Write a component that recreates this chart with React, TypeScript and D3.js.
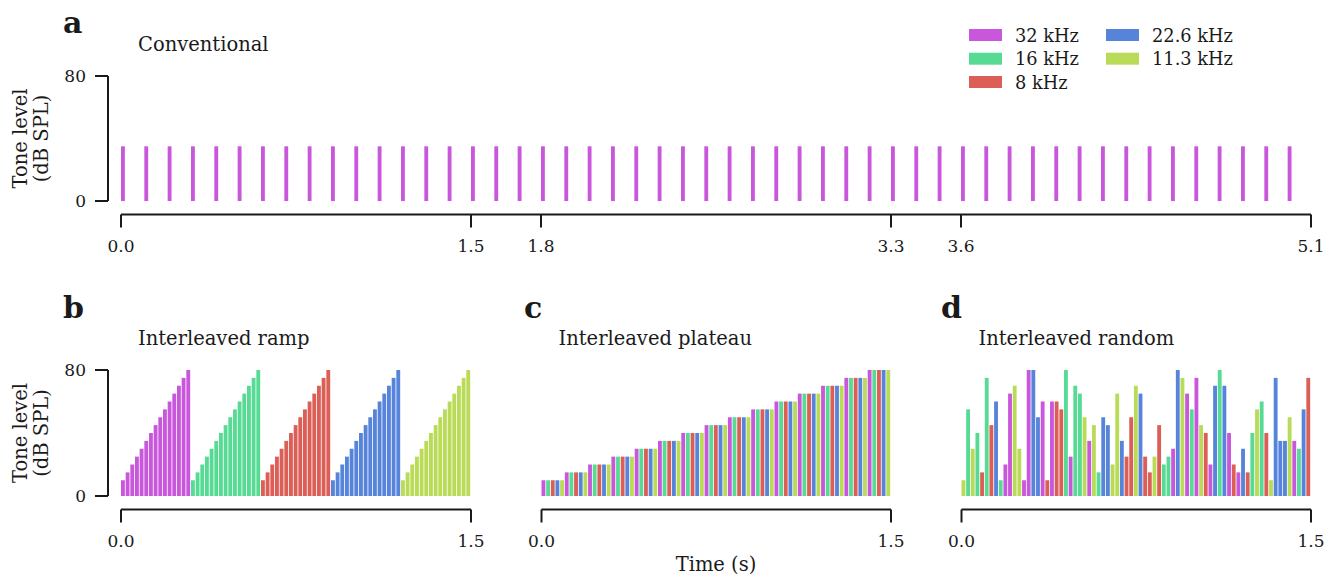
import React from "react";
import * as d3 from "d3";

// Tone frequencies (legend order) and their colours
const FREQUENCIES = ["32 kHz", "16 kHz", "8 kHz", "22.6 kHz", "11.3 kHz"];
const FREQ_COLORS = ["#c957db", "#57db94", "#db5f57", "#5784db", "#b9db57"];

// Sound levels used by the interleaved sequences (dB SPL)
const LEVELS = [10, 15, 20, 25, 30, 35, 40, 45, 50, 55, 60, 65, 70, 75, 80];

// Conventional paradigm: one 32 kHz tone every 100 ms at 35 dB SPL
const CONVENTIONAL_ONSETS = [
  0.0, 0.1, 0.2, 0.3, 0.4, 0.5, 0.6, 0.7, 0.8, 0.9,
  1.0, 1.1, 1.2, 1.3, 1.4, 1.5, 1.6, 1.7, 1.8, 1.9,
  2.0, 2.1, 2.2, 2.3, 2.4, 2.5, 2.6, 2.7, 2.8, 2.9,
  3.0, 3.1, 3.2, 3.3, 3.4, 3.5, 3.6, 3.7, 3.8, 3.9,
  4.0, 4.1, 4.2, 4.3, 4.4, 4.5, 4.6, 4.7, 4.8, 4.9, 5.0,
];
const CONVENTIONAL_LEVEL = 35;
const CONVENTIONAL_FREQ = 0;

// Interleaved random paradigm: frequency index and level of each tone
const RANDOM_FREQ = [
  4, 1, 4, 1, 2, 1, 2, 3, 1, 0, 0, 4, 4, 0, 0, 3, 3, 0, 2, 0,
  2, 2, 1, 0, 1, 1, 4, 0, 4, 1, 3, 3, 4, 4, 3, 2, 2, 4, 3, 2,
  2, 4, 2, 1, 1, 0, 3, 4, 0, 1, 0, 4, 2, 0, 3, 1, 3, 0, 2, 0,
  3, 2, 1, 4, 1, 2, 4, 3, 3, 3, 4, 0, 1, 3, 2,
];
const RANDOM_LEVEL = [
  10, 55, 30, 40, 15, 75, 45, 60, 10, 20, 65, 70, 30, 10, 80, 80, 50, 60, 10, 60,
  60, 55, 80, 25, 70, 65, 50, 35, 45, 15, 50, 45, 20, 65, 35, 25, 50, 70, 65, 25,
  15, 25, 45, 20, 25, 30, 80, 75, 65, 55, 75, 45, 40, 20, 70, 80, 70, 40, 20, 15,
  30, 15, 40, 55, 60, 40, 10, 75, 35, 35, 50, 35, 30, 55, 75,
];

// Axis tick values
const TICKS_CONVENTIONAL = [0, 1.5, 1.8, 3.3, 3.6, 5.1];
const TICKS_INTERLEAVED = [0, 1.5];
const Y_TICKS = [0, 80];

const TONE_PERIOD = 0.02; // interleaved tone spacing (s)
const TONE_DUR = 0.0165; // drawn tone width (s)

type Tone = { t: number; f: number; level: number };

const conventionalTones: Tone[] = CONVENTIONAL_ONSETS.map((t) => ({
  t,
  f: CONVENTIONAL_FREQ,
  level: CONVENTIONAL_LEVEL,
}));

// Ramp: each frequency sweeps through all levels before the next one
const rampTones: Tone[] = FREQUENCIES.flatMap((_, f) =>
  LEVELS.map((level) => ({ f, level }))
).map((d, i) => ({ ...d, t: i * TONE_PERIOD }));

// Plateau: each level is played at every frequency before stepping up
const plateauTones: Tone[] = LEVELS.flatMap((level) =>
  FREQUENCIES.map((_, f) => ({ f, level }))
).map((d, i) => ({ ...d, t: i * TONE_PERIOD }));

const randomTones: Tone[] = RANDOM_FREQ.map((f, i) => ({
  f,
  level: RANDOM_LEVEL[i],
  t: i * TONE_PERIOD,
}));

const FONT = "'DejaVu Serif', serif";
const FS_TICK = 17;
const FS_LABEL = 19.5;
const FS_LEGEND = 17.8;
const INK = "#1a1a1a";

type PanelProps = {
  letter: string;
  title: string;
  tones: Tone[];
  xDomain: [number, number];
  xRange: [number, number];
  yRange: [number, number]; // [bottom, top]
  xTicks: number[];
  toneWidth: number;
  showY: boolean;
  letterX: number;
  letterY: number;
};

function Panel({ letter, title, tones, xDomain, xRange, yRange, xTicks, toneWidth, showY, letterX, letterY }: PanelProps) {
  const x = d3.scaleLinear().domain(xDomain).range(xRange);
  const y = d3.scaleLinear().domain([0, 80]).range(yRange);
  const [y0, y1] = yRange;
  const xSpineY = y0 + 13.5;
  const ySpineX = xRange[0] - 13;
  const tick = 13;
  return (
    <g>
      <text x={letterX} y={letterY} fontFamily={FONT} fontWeight="bold" fontSize={30} fill={INK}>
        {letter}
      </text>
      <text x={xRange[0] + 17} y={y1 - 25} fontFamily={FONT} fontSize={FS_LABEL} fill={INK}>
        {title}
      </text>
      {tones.map((d, i) => (
        <rect
          key={i}
          x={x(d.t)}
          width={x(d.t + toneWidth) - x(d.t)}
          y={y(d.level)}
          height={y(0) - y(d.level)}
          fill={FREQ_COLORS[d.f]}
        />
      ))}
      {/* x axis */}
      <line x1={x(xDomain[0])} x2={x(xDomain[1])} y1={xSpineY} y2={xSpineY} stroke={INK} strokeWidth={2} />
      {xTicks.map((v) => (
        <g key={v}>
          <line x1={x(v)} x2={x(v)} y1={xSpineY} y2={xSpineY + tick} stroke={INK} strokeWidth={2} />
          <text x={x(v)} y={xSpineY + 37} textAnchor="middle" fontFamily={FONT} fontSize={FS_TICK} fill={INK}>
            {d3.format(".1f")(v)}
          </text>
        </g>
      ))}
      {showY && (
        <g>
          <line x1={ySpineX} x2={ySpineX} y1={y(0)} y2={y(80)} stroke={INK} strokeWidth={2} />
          {Y_TICKS.map((v) => (
            <g key={v}>
              <line x1={ySpineX - tick} x2={ySpineX} y1={y(v)} y2={y(v)} stroke={INK} strokeWidth={2} />
              <text x={ySpineX - tick - 9} y={y(v) + 6} textAnchor="end" fontFamily={FONT} fontSize={FS_TICK} fill={INK}>
                {v}
              </text>
            </g>
          ))}
          <g transform={`translate(0, ${(y0 + y1) / 2}) rotate(-90)`}>
            <text x={0} y={27} textAnchor="middle" fontFamily={FONT} fontSize={FS_LABEL} fill={INK}>
              Tone level
            </text>
            <text x={0} y={48} textAnchor="middle" fontFamily={FONT} fontSize={FS_LABEL} fill={INK}>
              (dB SPL)
            </text>
          </g>
        </g>
      )}
    </g>
  );
}

function Legend() {
  const cols = [969, 1106];
  const rows = [35, 58.7, 82];
  return (
    <g>
      {FREQUENCIES.map((name, i) => {
        const c = Math.floor(i / 3);
        const r = i % 3;
        return (
          <g key={name}>
            <rect x={cols[c]} y={rows[r] - 6} width={33} height={12} fill={FREQ_COLORS[i]} />
            <text x={cols[c] + 46} y={rows[r] + 6.5} fontFamily={FONT} fontSize={FS_LEGEND} fill={INK}>
              {name}
            </text>
          </g>
        );
      })}
    </g>
  );
}

export default function App() {
  return (
    <svg width={1325} height={577} style={{ position: "absolute", left: 0, top: 0, background: "#fff" }}>
      <Panel
        letter="a"
        title="Conventional"
        tones={conventionalTones}
        xDomain={[0, 5.1]}
        xRange={[121, 1311]}
        yRange={[201, 76]}
        xTicks={TICKS_CONVENTIONAL}
        toneWidth={TONE_DUR}
        showY
        letterX={63}
        letterY={33}
      />
      <Legend />
      <Panel
        letter="b"
        title="Interleaved ramp"
        tones={rampTones}
        xDomain={[0, 1.5]}
        xRange={[121, 471]}
        yRange={[496, 370]}
        xTicks={TICKS_INTERLEAVED}
        toneWidth={TONE_DUR}
        showY
        letterX={63}
        letterY={318}
      />
      <Panel
        letter="c"
        title="Interleaved plateau"
        tones={plateauTones}
        xDomain={[0, 1.5]}
        xRange={[541.5, 891]}
        yRange={[496, 370]}
        xTicks={TICKS_INTERLEAVED}
        toneWidth={TONE_DUR}
        showY={false}
        letterX={524}
        letterY={318}
      />
      <Panel
        letter="d"
        title="Interleaved random"
        tones={randomTones}
        xDomain={[0, 1.5]}
        xRange={[961.5, 1311]}
        yRange={[496, 370]}
        xTicks={TICKS_INTERLEAVED}
        toneWidth={TONE_DUR}
        showY={false}
        letterX={941}
        letterY={318}
      />
      <text x={716} y={571} textAnchor="middle" fontFamily={FONT} fontSize={FS_LABEL} fill={INK}>
        Time (s)
      </text>
    </svg>
  );
}
